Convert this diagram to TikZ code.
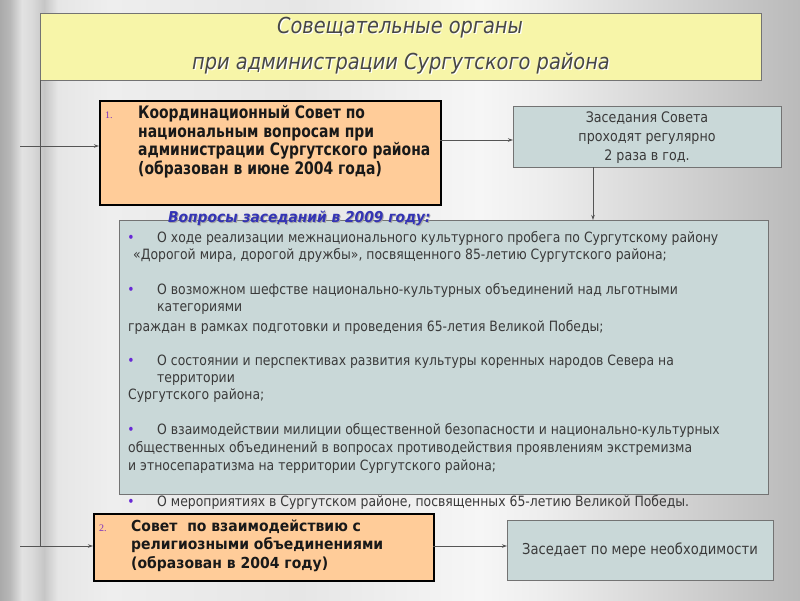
\documentclass[tikz,border=0pt]{standalone}
\usepackage{fontspec}
\setmainfont{DejaVu Sans}
\newfontfamily\bodyf[FakeStretch=0.875]{DejaVu Sans}
\newfontfamily\boxf[FakeStretch=0.81]{DejaVu Sans}
\newfontfamily\boxtf[FakeStretch=0.92]{DejaVu Sans}
\newfontfamily\titlef[FakeStretch=0.88]{DejaVu Sans}
\newfontfamily\numf{Liberation Serif}
\usetikzlibrary{arrows.meta}
\definecolor{gA}{RGB}{170,170,170}
\definecolor{gB}{RGB}{184,184,184}
\definecolor{gC}{RGB}{226,226,226}
\definecolor{gD}{RGB}{218,218,218}
\definecolor{gE}{RGB}{198,198,198}
\definecolor{gF}{RGB}{230,230,230}
\definecolor{gG}{RGB}{238,238,238}
\definecolor{gH}{RGB}{230,230,230}
\definecolor{gI}{RGB}{246,246,246}
\definecolor{gJ}{RGB}{238,238,238}
\definecolor{gK}{RGB}{216,216,216}
\definecolor{gL}{RGB}{186,186,186}
\definecolor{ylw}{RGB}{247,245,168}
\definecolor{peach}{RGB}{255,204,153}
\definecolor{bgrey}{RGB}{201,216,216}
\definecolor{txt}{RGB}{58,58,58}
\definecolor{bul}{RGB}{104,40,214}
\definecolor{numc}{RGB}{123,47,190}
\definecolor{headc}{RGB}{52,52,181}
\definecolor{linec}{RGB}{85,85,85}
\pgfdeclarehorizontalshading{bgshade}{100bp}{color(0bp)=(gA); color(25bp)=(gA); color(25.625bp)=(gB); color(26.375bp)=(gC); color(27bp)=(gD); color(27.75bp)=(gE); color(28.625bp)=(gF); color(31.875bp)=(gG); color(43.75bp)=(gH); color(55bp)=(gI); color(58.75bp)=(gJ); color(65.625bp)=(gK); color(75bp)=(gL); color(100bp)=(gL)}
\begin{document}
\begin{tikzpicture}[x=1pt,y=-1pt,
  box/.style={anchor=north west, inner sep=0pt},
  ybox/.style={box, fill=ylw, draw=black!55, line width=1pt},
  pbox/.style={box, fill=peach, draw=black, line width=1.8pt},
  gbox/.style={box, fill=bgrey, draw=black!55, line width=1pt},
  conn/.style={draw=linec, line width=0.9pt},
  arr/.style={conn, -{Stealth[length=5pt,width=3.5pt]}},
  tl/.style={anchor=base, inner sep=0pt, font=\titlef\itshape\fontsize{22}{22}\selectfont},
  bt/.style={anchor=base west, inner sep=0pt, text=txt, font=\bodyf\fontsize{14.2}{14.2}\selectfont},
  bu/.style={anchor=base, inner sep=0pt, text=bul, font=\bodyf\fontsize{14}{14}\selectfont},
  b1t/.style={anchor=base west, inner sep=0pt, text=black!90, font=\boxf\bfseries\fontsize{17.2}{17.2}\selectfont},
  b2t/.style={anchor=base west, inner sep=0pt, text=black!90, font=\boxtf\bfseries\fontsize{15.2}{15.2}\selectfont},
  num/.style={anchor=base west, inner sep=0pt, text=numc, font=\numf\fontsize{10}{10}\selectfont},
  gt/.style={anchor=base, inner sep=0pt, text=txt, font=\bodyf\fontsize{14.5}{14.5}\selectfont}
]
\useasboundingbox (0,0) rectangle (800,600);
\shade[shading=bgshade] (0,0) rectangle (800,600);

% boxes
\node[ybox, minimum width=721pt, minimum height=67pt] (title) at (40,13) {};
\node[pbox, minimum width=341pt, minimum height=104pt] (box1) at (99,100) {};
\node[gbox, minimum width=268pt, minimum height=61pt] (meet1) at (513,106) {};
\node[gbox, minimum width=649pt, minimum height=274pt] (qbox) at (119,220) {};
\node[pbox, minimum width=340pt, minimum height=67pt] (box2) at (93,513) {};
\node[gbox, minimum width=266pt, minimum height=60pt] (meet2) at (507,520) {};

% connectors
\coordinate (vtop) at (40,80);
\coordinate (vbot) at (40,546);
\draw[conn] (vtop) -- (vbot);
\coordinate (s1) at (20,146);
\draw[arr] (s1) -- (s1 -| box1.west);
\coordinate (s2) at (20,546);
\draw[arr] (s2) -- (s2 -| box2.west);
\coordinate (a1) at (440,140);
\draw[arr] (a1) -- (a1 -| meet1.west);
\coordinate (a2) at (593,167);
\draw[arr] (a2) -- (a2 |- qbox.north);
\coordinate (a3) at (433,546);
\draw[arr] (a3) -- (a3 -| meet2.west);

% title
\node[tl, text=white] (t1s) at (401.2,34.2) {Совещательные органы};
\node[tl, text=black!72] (t1) at (400,33) {Совещательные органы};
\node[tl, text=white] (t2s) at (402.2,70.2) {при администрации Сургутского района};
\node[tl, text=black!72] (t2) at (401,69) {при администрации Сургутского района};

% box 1
\node[num] (n1) at (105,118) {1.};
\node[b1t] (c1) at (138,118) {Координационный Совет по};
\node[b1t] (c2) at (138,137) {национальным вопросам при};
\node[b1t] (c3) at (138,155) {администрации Сургутского района};
\node[b1t] (c4) at (138,174) {(образован в июне 2004 года)};

% meet 1
\node[gt] (m1) at (647,122) {Заседания Совета};
\node[gt] (m2) at (647,141) {проходят регулярно};
\node[gt] (m3) at (647,160) {2 раза в год.};

% heading
\node[anchor=base west, inner sep=0pt, text=black!35, font=\boxtf\bfseries\itshape\fontsize{15}{15}\selectfont] (hs) at (169,223) {Вопросы заседаний в 2009 году:};
\node[anchor=base west, inner sep=0pt, text=headc, font=\boxtf\bfseries\itshape\fontsize{15}{15}\selectfont] (h) at (168,222) {Вопросы заседаний в 2009 году:};

% questions
\node[bu] (d1) at (131,242) {•};
\node[bt] (q1) at (157,242) {О ходе реализации межнационального культурного пробега по Сургутскому району};
\node[bt] (q2) at (133,259) {«Дорогой мира, дорогой дружбы», посвященного 85-летию Сургутского района;};
\node[bu] (d2) at (131,294) {•};
\node[bt] (q3) at (157,294) {О возможном шефстве национально-культурных объединений над льготными};
\node[bt] (q4) at (157,311) {категориями};
\node[bt] (q5) at (128,331) {граждан в рамках подготовки и проведения 65-летия Великой Победы;};
\node[bu] (d3) at (131,365) {•};
\node[bt] (q6) at (157,365) {О состоянии и перспективах развития культуры коренных народов Севера на};
\node[bt] (q7) at (157,382) {территории};
\node[bt] (q8) at (128,399) {Сургутского района;};
\node[bu] (d4) at (131,434) {•};
\node[bt] (q9) at (157,434) {О взаимодействии милиции общественной безопасности и национально-культурных};
\node[bt] (q10) at (128,452) {общественных объединений в вопросах противодействия проявлениям экстремизма};
\node[bt] (q11) at (128,470) {и этносепаратизма на территории Сургутского района;};
\node[bu] (d5) at (131,506) {•};
\node[bt] (q12) at (157,506) {О мероприятиях в Сургутском районе, посвященных 65-летию Великой Победы.};

% box 2
\node[num] (n2) at (99,531) {2.};
\node[b2t] (e1) at (131,531) {Совет \ по взаимодействию с};
\node[b2t] (e2) at (131,549) {религиозными объединениями};
\node[b2t] (e3) at (131,568) {(образован в 2004 году)};

% meet 2
\node[gt, font=\bodyf\fontsize{15}{15}\selectfont] (m4) at (640,554) {Заседает по мере необходимости};
\end{tikzpicture}
\end{document}
